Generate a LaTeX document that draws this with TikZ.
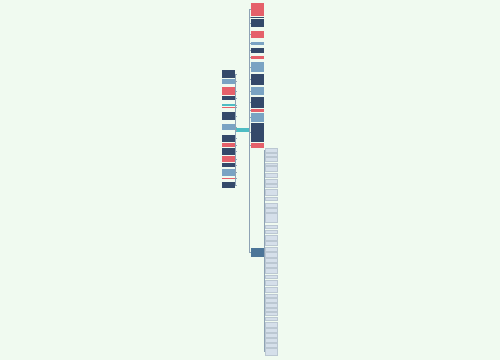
\documentclass[tikz,border=0pt]{standalone}
\usepackage{tikz}
\definecolor{mapbg}{HTML}{F0FAF0}
\definecolor{mapred}{HTML}{E5606A}
\definecolor{mapnavy}{HTML}{34496A}
\definecolor{mapsky}{HTML}{7AA3C3}
\definecolor{mapteal}{HTML}{4DBCC3}
\definecolor{mapsteel}{HTML}{4C7598}
\definecolor{mapleaf}{HTML}{D5DFEA}
\definecolor{mapline}{HTML}{8EA2B4}
\tikzset{
  block/.style={
    rectangle,
    draw=none,
    inner sep=0pt,
    minimum width=0.27cm
  },
  leaf/.style={
    block,
    fill=mapleaf,
    draw=mapline!60,
    line width=0.2pt,
    minimum width=0.24cm
  }
}
\tikzstyle{link} = [draw=mapline, line width=0.4pt]

\begin{document}
\begin{tikzpicture}[x=0.02cm, y=-0.02cm]
    \fill[mapbg] (0,0) rectangle (500,360);
    \useasboundingbox (0,0) rectangle (500,360);
    \node[block, fill=mapteal, minimum width=0.26cm, minimum height=0.08cm] (root) at (242.5, 130) {};
    \foreach \t/\b/\c [count=\i] in {3/16/mapred, 17/18/mapnavy, 19/27/mapnavy, 31/38/mapred, 42/45/mapsky, 48/53/mapnavy, 56/59/mapred, 62/72/mapsky, 74/85/mapnavy, 87/95/mapsky, 97/108/mapnavy, 109/112/mapred, 113/122/mapsky, 123/142/mapnavy, 143/148/mapred} {
        \node[block, fill=\c, minimum height={(\b-\t)*0.02cm}] (r\i) at (257.3, {(\t+\b)/2}) {};
        \draw[link] (root.east) -- (249.6, 130) |- (r\i.west);
    }
    \foreach \t/\b/\c [count=\i] in {70/78/mapnavy, 79/84/mapsky, 87/95/mapred, 96/100/mapnavy, 104/106/mapteal, 107/108/mapred, 112/120/mapnavy, 124/130/mapsky, 135/142/mapnavy, 143/147/mapred, 148/155/mapnavy, 156/162/mapred, 163/167/mapnavy, 169/176/mapsky, 178/179/mapred, 182/188/mapnavy} {
        \node[block, fill=\c, minimum height={(\b-\t)*0.02cm}] (l\i) at (228.7, {(\t+\b)/2}) {};
        \draw[link] (root.west) -- (235.6, 130) |- (l\i.east);
    }
    \node[block, fill=mapsteel, minimum height=0.18cm] (sub) at (257.3, 252.5) {};
    \draw[link] (root.east) -- (249.6, 130) |- (sub.west);
    \foreach \t/\b [count=\i] in {148/152, 153/156, 157/161, 163/165, 166/171, 173/177, 179/183, 184/187, 189/195, 197/200, 203/207, 208/212, 213/222, 225/228, 230/233, 235/240, 241/245, 247/251, 252/257, 258/262, 263/267, 268/273, 275/278, 280/285, 287/292, 294/297, 298/302, 303/307, 308/311, 312/315, 317/320, 322/327, 328/332, 333/337, 338/342, 343/347, 348/355} {
        \node[leaf, minimum height={(\b-\t)*0.02cm}] (s\i) at (271, {(\t+\b)/2}) {};
        \draw[link] (sub.east) -- (264.4, 252.5) |- (s\i.west);
    }
\end{tikzpicture}
\end{document}
